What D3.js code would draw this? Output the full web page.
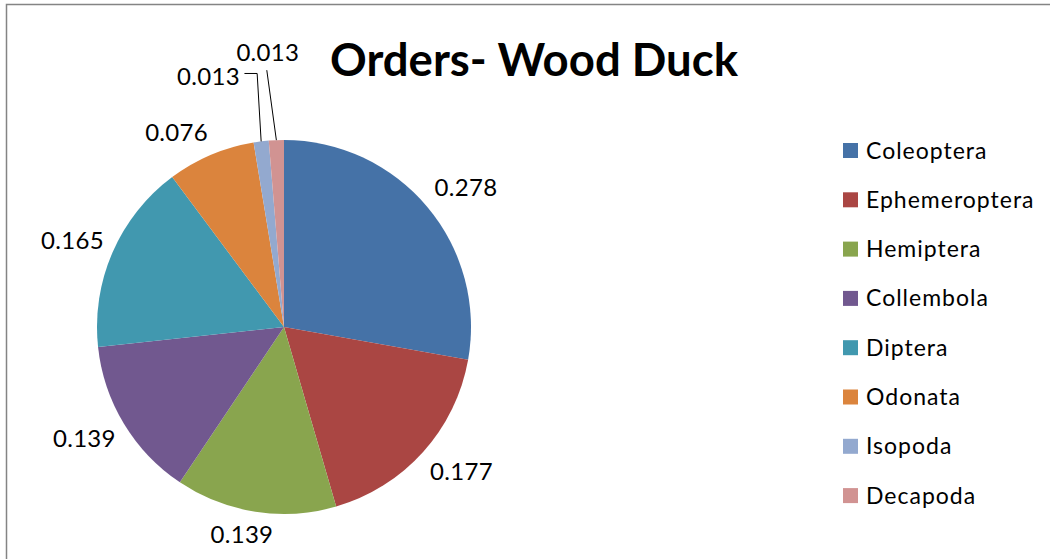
<!DOCTYPE html>
<html lang="en">
<head>
<meta charset="utf-8">
<title>Orders- Wood Duck</title>
<script src="https://d3js.org/d3.v7.min.js"></script>
<style>
  body { margin: 0; background: #fff; }
  text { font-family: Lato, "Open Sans", sans-serif; fill: #000; }
</style>
</head>
<body>
<div id="chart"></div>
<script>
// data
var orders = ["Coleoptera", "Ephemeroptera", "Hemiptera", "Collembola", "Diptera", "Odonata", "Isopoda", "Decapoda"];
var shares = [0.278, 0.177, 0.139, 0.139, 0.165, 0.076, 0.013, 0.013];
var labels = ["0.278", "0.177", "0.139", "0.139", "0.165", "0.076", "0.013", "0.013"];

var colors = ["#4572A7", "#AA4643", "#89A54E", "#71588F", "#4198AF", "#DB843D", "#93A9CF", "#D19392"];

var width = 1050, height = 559;
var cx = 284, cy = 327, radius = 187;

var svg = d3.select("#chart").append("svg")
    .attr("width", width)
    .attr("height", height);

// chart frame
svg.append("rect")
    .attr("x", 6.5).attr("y", 4.5)
    .attr("width", 1200).attr("height", 700)
    .style("fill", "none")
    .style("stroke", "#848484")
    .style("stroke-width", 1.5);

// title
svg.append("text")
    .attr("x", 534).attr("y", 76)
    .attr("text-anchor", "middle")
    .style("font-weight", "bold")
    .style("font-size", "46px")
    .attr("textLength", 408).attr("lengthAdjust", "spacingAndGlyphs")
    .text("Orders- Wood Duck");

var data = orders.map(function(o, i) { return {name: o, value: shares[i], label: labels[i], color: colors[i]}; });

var pie = d3.pie().sort(null).value(function(d) { return d.value; });
var arc = d3.arc().innerRadius(0).outerRadius(radius);
var arcs = pie(data);

var g = svg.append("g").attr("transform", "translate(" + cx + "," + cy + ")");

g.selectAll("path.slice")
    .data(arcs).enter()
    .append("path")
    .attr("class", "slice")
    .attr("d", arc)
    .style("fill", function(d) { return d.data.color; });

// label boxes sit just outside the edge, nearest corner towards the pie
var hw = 31, hh = 13, gap = 10;
function clamp(v) { return Math.max(-1, Math.min(1, v)); }
function labelPos(d) {
    var a = (d.startAngle + d.endAngle) / 2;
    var ux = Math.sin(a), uy = -Math.cos(a);
    return [(radius + gap) * ux + hw * clamp(ux * 2.5),
            (radius + gap) * uy + hh * clamp(uy * 1.5)];
}

// the two thin slices get their labels pulled up with leader lines
var moved = {
    "Isopoda": {dx: -42, dy: -42},
    "Decapoda": {dx: -5, dy: -65}
};

arcs.forEach(function(d) {
    var p = labelPos(d);
    var m = moved[d.data.name];
    if (m) { p = [p[0] + m.dx, p[1] + m.dy]; }
    d.lx = p[0]; d.ly = p[1];
});

g.selectAll("text.val")
    .data(arcs).enter()
    .append("text")
    .attr("class", "val")
    .attr("x", function(d) { return d.lx; })
    .attr("y", function(d) { return d.ly + 8.5; })
    .attr("text-anchor", "middle")
    .style("font-size", "24px")
    .style("letter-spacing", "0.3px")
    .text(function(d) { return d.data.label; });

// leader lines
var line = d3.line();
g.selectAll("path.leader")
    .data(arcs.filter(function(d) { return moved[d.data.name]; })).enter()
    .append("path")
    .attr("class", "leader")
    .attr("d", function(d) {
        var a = (d.startAngle + d.endAngle) / 2;
        var ex = radius * Math.sin(a), ey = -radius * Math.cos(a);
        if (d.lx + hw < ex - 6) {
            var y0 = d.ly - 3;
            return line([[d.lx + hw + 5, y0], [ex - 4, y0], [ex, ey]]);
        }
        return line([[d.lx - 1, d.ly + hh + 5], [ex, ey]]);
    })
    .style("fill", "none")
    .style("stroke", "#000")
    .style("stroke-width", 1);

// legend
var legend = svg.append("g").attr("transform", "translate(843,143)");
var row = legend.selectAll("g")
    .data(data).enter()
    .append("g")
    .attr("transform", function(d, i) { return "translate(0," + (i * 49.3) + ")"; });

row.append("rect")
    .attr("width", 15).attr("height", 15)
    .style("fill", function(d) { return d.color; });

row.append("text")
    .attr("x", 23).attr("y", 15.5)
    .style("font-size", "23px")
    .style("letter-spacing", "1px")
    .text(function(d) { return d.name; });
</script>
</body>
</html>
